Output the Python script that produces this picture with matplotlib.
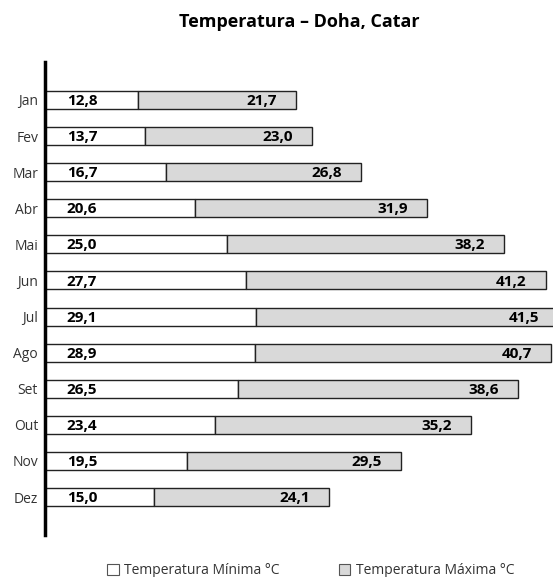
import matplotlib.pyplot as plt
from matplotlib.patches import Patch

plt.rcParams['font.family'] = ['Open Sans', 'DejaVu Sans']

meses = ['Jan', 'Fev', 'Mar', 'Abr', 'Mai', 'Jun', 'Jul', 'Ago', 'Set', 'Out', 'Nov', 'Dez']
t_min = [12.8, 13.7, 16.7, 20.6, 25.0, 27.7, 29.1, 28.9, 26.5, 23.4, 19.5, 15.0]
t_max = [21.7, 23.0, 26.8, 31.9, 38.2, 41.2, 41.5, 40.7, 38.6, 35.2, 29.5, 24.1]

fig = plt.figure(figsize=(5.53, 5.77), dpi=100)
ax = fig.add_axes([45 / 553, 1 - 535 / 577, 1 - 45 / 553, (535 - 62) / 577])

y = range(len(meses))
ax.barh(y, t_min, height=0.5, color='white', edgecolor='#222222', linewidth=1.0)
ax.barh(y, t_max, left=t_min, height=0.5, color='#d9d9d9', edgecolor='#222222', linewidth=1.0)

for i in y:
    ax.text(3.0, i + 0.03, f'{t_min[i]:.1f}'.replace('.', ','), ha='left', va='center',
            fontsize=11, fontweight='bold')
    ax.text(t_min[i] + t_max[i] - 2.6, i + 0.03, f'{t_max[i]:.1f}'.replace('.', ','),
            ha='right', va='center', fontsize=11, fontweight='bold')

ax.set_xlim(0, 69.9)
ax.set_ylim(12.05, -1.05)
ax.set_yticks(list(y))
ax.set_yticklabels(meses, fontsize=10, color='#333333')
ax.tick_params(axis='y', length=0, pad=5)
ax.set_xticks([])
for s in ['top', 'right', 'bottom']:
    ax.spines[s].set_visible(False)
ax.spines['left'].set_linewidth(2.5)

fig.text(299 / 553, 1 - 22 / 577, 'Temperatura – Doha, Catar', ha='center', va='center',
         fontsize=13, fontweight='bold')

handles = [Patch(facecolor='white', edgecolor='#555555', linewidth=0.8),
           Patch(facecolor='#d9d9d9', edgecolor='#555555', linewidth=0.8)]
fig.legend(handles, ['Temperatura Mínima °C', 'Temperatura Máxima °C'], ncol=2,
           loc='center', bbox_to_anchor=(311 / 553, 1 - 571 / 577), frameon=False,
           fontsize=10, handlelength=0.8, handleheight=0.8, handletextpad=0.4,
           columnspacing=4.3, labelcolor='#333333')

fig.savefig('out.png', dpi=100)
